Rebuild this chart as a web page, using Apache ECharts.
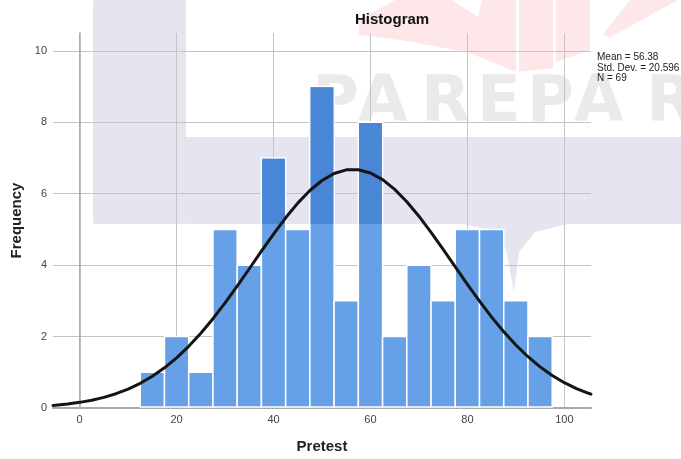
<!DOCTYPE html>
<html>
<head>
<meta charset="utf-8">
<script src="https://cdn.jsdelivr.net/npm/echarts@6/dist/echarts.min.js"></script>
<style>
  html, body { margin: 0; padding: 0; background: #ffffff; }
  #chart { width: 681px; height: 459px; }
</style>
</head>
<body>
<div id="chart"></div>
<script>
// ---- data ----
const binStarts = [12.5, 17.5, 22.5, 27.5, 32.5, 37.5, 42.5, 47.5, 52.5, 57.5, 62.5, 67.5, 72.5, 77.5, 82.5, 87.5, 92.5];
const binWidth = 5;
const frequencies = [1, 2, 1, 5, 4, 7, 5, 9, 3, 8, 2, 4, 3, 5, 5, 3, 2];

const curveX = [-5.5, -5, -2.5, 0, 2.5, 5, 7.5, 10, 12.5, 15, 17.5, 20, 22.5, 25, 27.5, 30, 32.5, 35, 37.5, 40,
  42.5, 45, 47.5, 50, 52.5, 55, 57.5, 60, 62.5, 65, 67.5, 70, 72.5, 75, 77.5, 80, 82.5, 85, 87.5, 90,
  92.5, 95, 97.5, 100, 102.5, 105, 105.5];
const curveY = [0.073, 0.079, 0.112, 0.158, 0.218, 0.298, 0.400, 0.529, 0.691, 0.888, 1.125, 1.404, 1.727, 2.094, 2.501, 2.943, 3.412, 3.899, 4.390, 4.871,
  5.325, 5.737, 6.090, 6.370, 6.565, 6.668, 6.673, 6.581, 6.394, 6.122, 5.777, 5.371, 4.920, 4.441, 3.951, 3.463, 2.990, 2.545, 2.134, 1.764,
  1.436, 1.152, 0.911, 0.709, 0.545, 0.412, 0.389];

const xTicks = [0, 20, 40, 60, 80, 100];
const yTicks = [0, 2, 4, 6, 8, 10];
const statsLines = ['Mean = 56.38', 'Std. Dev. = 20.596', 'N = 69'];
const titleText = 'Histogram';
const xName = 'Pretest';
const yName = 'Frequency';
const watermarkLetters = ['P', 'A', 'R', 'E', 'P', 'A', 'R', 'E'];

// ---- styling / watermark geometry (pixels, not data) ----
const WM_BAND_BOTTOM = 224;
const WM_LETTER_X = [312, 358, 421, 477, 527, 574, 646, 702];
const LAV = 'rgba(40,40,120,0.12)';
const PINK = 'rgba(240,60,70,0.12)';
const BAR_LIGHT = '#66a0e6';
const BAR_DARK = '#4a86d6';
const FONT = '"Liberation Sans", Arial, sans-serif';

const barData = binStarts.map((s, i) => [s, s + binWidth, frequencies[i]]);
const curveData = curveX.map((x, i) => [x, curveY[i]]);

const chart = echarts.init(document.getElementById('chart'), null, { renderer: 'canvas' });

const bgShapes = [
  { type: 'rect', shape: { x: 93, y: 0, width: 93, height: 224, r: 2 }, style: { fill: LAV } },
  { type: 'rect', shape: { x: 186, y: 137, width: 495, height: 87 }, style: { fill: LAV } },
  { type: 'polygon', shape: { points: [[462, 224], [492, 230], [506, 250], [514, 292], [519, 252], [535, 232], [568, 224]] }, style: { fill: LAV } },
  { type: 'polygon', shape: { points: [[359, 20], [395, 0], [452, 0], [478, 17], [482, 0], [516, 0], [516, 72], [467, 52], [400, 40], [359, 35]] }, style: { fill: PINK } },
  { type: 'polygon', shape: { points: [[519, 0], [553, 0], [553, 68], [519, 72]] }, style: { fill: PINK } },
  { type: 'polygon', shape: { points: [[556, 0], [590, 0], [590, 50], [556, 62]] }, style: { fill: PINK } },
  { type: 'polygon', shape: { points: [[603, 34], [630, 0], [678, 0], [609, 38]] }, style: { fill: PINK } }
].map(e => Object.assign(e, { silent: true, z: 0 }));

const letterEls = watermarkLetters.map((ch, i) => ({
  type: 'text', silent: true, z: 0,
  style: { x: WM_LETTER_X[i], y: 104, text: ch, font: 'bold 64px "DejaVu Sans"', fill: 'rgba(140,140,140,0.18)', verticalAlign: 'middle', align: 'left' }
}));

const option = {
  backgroundColor: '#ffffff',
  animation: false,
  title: {
    text: titleText,
    z: 10,
    left: 355,
    top: 12,
    padding: 0,
    textStyle: { fontFamily: FONT, fontSize: 15, fontWeight: 'bold', color: '#111111' }
  },
  grid: { left: 53, right: 90, top: 33, bottom: 47, containLabel: false },
  xAxis: {
    type: 'value',
    z: 5,
    min: -5.5,
    max: 105.5,
    name: xName,
    nameLocation: 'middle',
    nameGap: 31,
    nameTextStyle: { fontFamily: FONT, fontSize: 15, fontWeight: 'bold', color: '#222222' },
    axisLine: { show: true, onZero: false, lineStyle: { color: '#a8a8a8', width: 2 } },
    axisTick: { show: false, customValues: xTicks },
    axisLabel: { customValues: xTicks, margin: 6, fontFamily: FONT, fontSize: 11, color: '#444444' },
    splitLine: { show: true, lineStyle: { color: '#c4c4c4', width: 1 } }
  },
  yAxis: {
    type: 'value',
    z: 5,
    min: 0,
    max: 10.5,
    name: yName,
    nameLocation: 'middle',
    nameGap: 28,
    nameTextStyle: { fontFamily: FONT, fontSize: 15, fontWeight: 'bold', color: '#222222' },
    axisLine: { show: true, lineStyle: { color: '#a8a8a8', width: 1.5 } },
    axisTick: { show: false, customValues: yTicks },
    axisLabel: { customValues: yTicks, margin: 6, fontFamily: FONT, fontSize: 11, color: '#444444' },
    splitLine: { show: true, lineStyle: { color: '#c4c4c4', width: 1 } }
  },
  series: [
    {
      type: 'custom',
      name: 'bins',
      z: 6,
      data: barData,
      encode: { x: [0, 1], y: 2 },
      renderItem: function (params, api) {
        const x0 = api.value(0), x1 = api.value(1), f = api.value(2);
        const pTop = api.coord([x0, f]);
        const pBot = api.coord([x1, 0]);
        const w = pBot[0] - pTop[0];
        const h = pBot[1] - pTop[1] - 1;
        const children = [{
          type: 'rect',
          shape: { x: pTop[0], y: pTop[1], width: w, height: h },
          style: { fill: BAR_LIGHT, stroke: '#ffffff', lineWidth: 1.5 }
        }];
        if (pTop[1] < WM_BAND_BOTTOM) {
          const bottom = Math.min(pBot[1], WM_BAND_BOTTOM);
          children.push({
            type: 'rect',
            shape: { x: pTop[0] + 0.75, y: pTop[1] + 0.75, width: w - 1.5, height: bottom - pTop[1] - 0.75 },
            style: { fill: BAR_DARK }
          });
        }
        return { type: 'group', children: children };
      }
    },
    {
      type: 'line',
      name: 'normal',
      z: 7,
      data: curveData,
      smooth: false,
      showSymbol: false,
      symbol: 'none',
      lineStyle: { color: '#141414', width: 3, join: 'round', cap: 'round' },
      silent: true
    }
  ],
  graphic: bgShapes.concat(letterEls).concat([
    {
      type: 'text', silent: true, z: 20,
      style: { x: 597, y: 52, text: statsLines.join('\n'), font: '10px "Liberation Sans", Arial, sans-serif', lineHeight: 10.5, fill: '#222222', verticalAlign: 'top', align: 'left' }
    }
  ])
};

chart.setOption(option);
</script>
</body>
</html>
